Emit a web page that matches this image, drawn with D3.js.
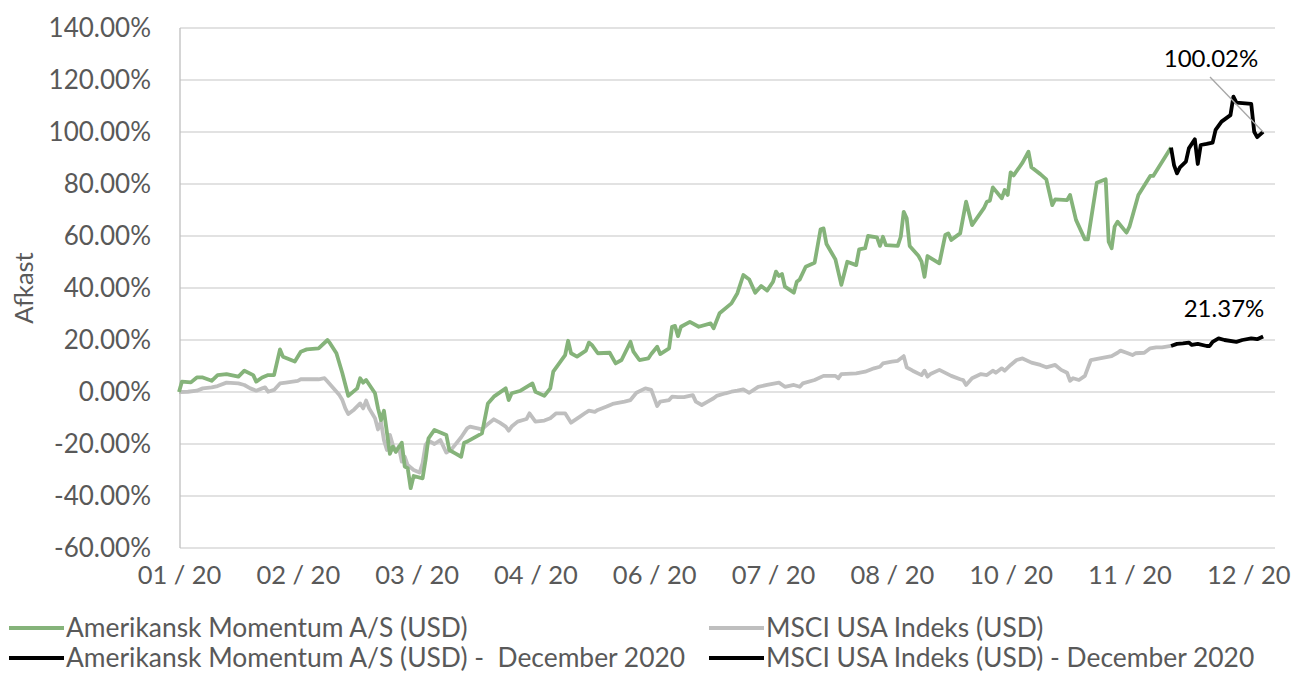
<!DOCTYPE html>
<html>
<head>
<meta charset="utf-8">
<script src="https://cdn.jsdelivr.net/npm/d3@7"></script>
<style>
  body { margin: 0; background: #fff; }
  svg { display: block; font-family: Lato, "Open Sans", sans-serif; }
</style>
</head>
<body>
<div id="chart"></div>
<script>

// Afkast i procent
const momentum = [
  ['2020-01-01', 0], ['2020-01-02', 4], ['2020-01-05', 3.7], ['2020-01-07', 5.6], ['2020-01-09', 5.6],
  ['2020-01-12', 4.3], ['2020-01-14', 6.5], ['2020-01-17', 6.9], ['2020-01-21', 5.9], ['2020-01-23', 8.2],
  ['2020-01-26', 6.5], ['2020-01-27', 4], ['2020-01-29', 5.6], ['2020-01-31', 6.5], ['2020-02-02', 6.5],
  ['2020-02-04', 16.4], ['2020-02-05', 13.6], ['2020-02-09', 11.7], ['2020-02-11', 15.5], ['2020-02-13', 16.4],
  ['2020-02-17', 16.8], ['2020-02-20', 20], ['2020-02-21', 18.5], ['2020-02-23', 14.9], ['2020-02-25', 7.2],
  ['2020-02-27', -1.5], ['2020-03-01', 1.4], ['2020-03-02', 5.3], ['2020-03-03', 3.6], ['2020-03-04', 4.6],
  ['2020-03-07', -0.5], ['2020-03-08', -6.3], ['2020-03-09', -10.8], ['2020-03-10', -7.2], ['2020-03-12', -23.8],
  ['2020-03-13', -21], ['2020-03-14', -23], ['2020-03-16', -19.5], ['2020-03-17', -28.7], ['2020-03-18', -29.3],
  ['2020-03-19', -37], ['2020-03-20', -32.3], ['2020-03-23', -33.2], ['2020-03-24', -26.2], ['2020-03-25', -17.8],
  ['2020-03-27', -14.6], ['2020-03-31', -16.5], ['2020-04-01', -22.3], ['2020-04-03', -23.6], ['2020-04-05', -24.9],
  ['2020-04-06', -19.5], ['2020-04-07', -19.1], ['2020-04-12', -15.9], ['2020-04-14', -4.4], ['2020-04-16', -1.8],
  ['2020-04-20', 1.4], ['2020-04-21', -3.1], ['2020-04-22', -0.5], ['2020-04-25', 0.5], ['2020-04-29', 3.3],
  ['2020-04-30', 0.1], ['2020-05-03', -1.5], ['2020-05-05', 1.4], ['2020-05-06', 7.8], ['2020-05-08', 11],
  ['2020-05-10', 14.2], ['2020-05-11', 19.7], ['2020-05-12', 14.9], ['2020-05-14', 13.6], ['2020-05-17', 15.9],
  ['2020-05-18', 19], ['2020-05-19', 18.1], ['2020-05-21', 14.9], ['2020-05-25', 15.1], ['2020-05-27', 11],
  ['2020-05-29', 12.3], ['2020-06-01', 19.3], ['2020-06-02', 15.5], ['2020-06-04', 12.3], ['2020-06-07', 12.9],
  ['2020-06-08', 14.6], ['2020-06-10', 17.4], ['2020-06-11', 14.6], ['2020-06-14', 16.8], ['2020-06-15', 25.1],
  ['2020-06-16', 25.4], ['2020-06-17', 21.5], ['2020-06-18', 25.1], ['2020-06-21', 27], ['2020-06-24', 25.1],
  ['2020-06-28', 26.4], ['2020-06-29', 24.5], ['2020-07-01', 30.3], ['2020-07-05', 34.1], ['2020-07-07', 38],
  ['2020-07-09', 45], ['2020-07-11', 43.3], ['2020-07-13', 38.2], ['2020-07-15', 40.8], ['2020-07-17', 39],
  ['2020-07-19', 42.4], ['2020-07-20', 46.3], ['2020-07-21', 44.6], ['2020-07-22', 45.4], ['2020-07-23', 40.5],
  ['2020-07-26', 38.2], ['2020-07-27', 42.4], ['2020-07-28', 43.3], ['2020-07-30', 48.2], ['2020-08-02', 49.7],
  ['2020-08-04', 62.6], ['2020-08-05', 62.9], ['2020-08-06', 56.9], ['2020-08-09', 51], ['2020-08-11', 41.2],
  ['2020-08-13', 50.1], ['2020-08-16', 48.8], ['2020-08-17', 54.9], ['2020-08-19', 55.3], ['2020-08-20', 60],
  ['2020-08-23', 59.5], ['2020-08-24', 56.2], ['2020-08-25', 59.7], ['2020-08-26', 56.5], ['2020-08-30', 56.2],
  ['2020-08-31', 59.7], ['2020-09-01', 69.3], ['2020-09-02', 66.8], ['2020-09-03', 56.2], ['2020-09-06', 52.3],
  ['2020-09-07', 50.1], ['2020-09-08', 44.3], ['2020-09-09', 52.3], ['2020-09-13', 49.5], ['2020-09-15', 60.4],
  ['2020-09-16', 61], ['2020-09-17', 58.5], ['2020-09-20', 61], ['2020-09-22', 73.2], ['2020-09-24', 64.2],
  ['2020-09-28', 70.7], ['2020-09-29', 73.2], ['2020-09-30', 73.6], ['2020-10-01', 78.7], ['2020-10-04', 74.5],
  ['2020-10-05', 77.7], ['2020-10-06', 75.8], ['2020-10-07', 84.5], ['2020-10-08', 83.3], ['2020-10-11', 88.2],
  ['2020-10-13', 92.4], ['2020-10-14', 86.4], ['2020-10-17', 83.8], ['2020-10-19', 81.8], ['2020-10-21', 71.9],
  ['2020-10-22', 74.1], ['2020-10-26', 73.8], ['2020-10-27', 75.8], ['2020-10-29', 66.2], ['2020-11-01', 58.7],
  ['2020-11-02', 58.7], ['2020-11-05', 80.5], ['2020-11-08', 81.8], ['2020-11-09', 57.8], ['2020-11-10', 55.3],
  ['2020-11-11', 63.6], ['2020-11-12', 65.5], ['2020-11-15', 61.3], ['2020-11-16', 63.6], ['2020-11-19', 75.8],
  ['2020-11-23', 83.1], ['2020-11-24', 83.1], ['2020-11-27', 88.6], ['2020-11-30', 94]
];

const momentumDec = [
  ['2020-11-30', 94], ['2020-12-01', 87.3], ['2020-12-02', 84.1], ['2020-12-03', 86.4], ['2020-12-05', 88.6],
  ['2020-12-06', 93.7], ['2020-12-08', 97.2], ['2020-12-09', 87.7], ['2020-12-10', 95], ['2020-12-12', 95.4],
  ['2020-12-14', 95.9], ['2020-12-15', 100.8], ['2020-12-17', 104], ['2020-12-20', 106.5], ['2020-12-21', 113.6],
  ['2020-12-22', 111.3], ['2020-12-27', 110.8], ['2020-12-28', 100.1], ['2020-12-29', 98], ['2020-12-31', 100.02]
];

const msci = [
  ['2020-01-01', 0], ['2020-01-04', 0.1], ['2020-01-07', 0.5], ['2020-01-09', 1.4], ['2020-01-12', 1.8],
  ['2020-01-14', 2.3], ['2020-01-17', 3.6], ['2020-01-21', 3.3], ['2020-01-23', 2.7], ['2020-01-25', 1.4],
  ['2020-01-27', 0.5], ['2020-01-29', 1.4], ['2020-01-30', 1.8], ['2020-01-31', 0.1], ['2020-02-02', 0.8],
  ['2020-02-04', 3.3], ['2020-02-06', 3.6], ['2020-02-10', 4.3], ['2020-02-11', 4.9], ['2020-02-15', 4.9],
  ['2020-02-17', 4.9], ['2020-02-19', 5.3], ['2020-02-20', 4], ['2020-02-22', 1.4], ['2020-02-24', -1.2],
  ['2020-02-25', -3.1], ['2020-02-26', -6.3], ['2020-02-27', -8.5], ['2020-02-29', -6.7], ['2020-03-02', -4.4],
  ['2020-03-03', -6.3], ['2020-03-04', -3.3], ['2020-03-05', -6.3], ['2020-03-07', -10.1], ['2020-03-08', -14.4],
  ['2020-03-09', -11.4], ['2020-03-10', -18.5], ['2020-03-11', -22.3], ['2020-03-12', -16.5], ['2020-03-13', -20.4],
  ['2020-03-14', -23], ['2020-03-15', -21], ['2020-03-16', -26.8], ['2020-03-17', -24.9], ['2020-03-18', -28.1],
  ['2020-03-20', -30], ['2020-03-22', -31], ['2020-03-23', -27.4], ['2020-03-24', -20.4], ['2020-03-25', -18.7],
  ['2020-03-27', -20], ['2020-03-29', -18.5], ['2020-03-31', -23.3], ['2020-04-02', -21.7], ['2020-04-05', -17.4],
  ['2020-04-07', -14], ['2020-04-08', -13.3], ['2020-04-12', -14.4], ['2020-04-13', -13.3], ['2020-04-14', -12.3],
  ['2020-04-16', -10.5], ['2020-04-18', -11.8], ['2020-04-20', -13.3], ['2020-04-21', -14.9], ['2020-04-22', -13.3],
  ['2020-04-24', -11.4], ['2020-04-27', -10.4], ['2020-04-28', -8.2], ['2020-04-30', -11.4], ['2020-05-03', -11],
  ['2020-05-05', -10.1], ['2020-05-07', -8.2], ['2020-05-10', -8.2], ['2020-05-12', -11.8], ['2020-05-15', -9.5],
  ['2020-05-17', -7.9], ['2020-05-18', -7.2], ['2020-05-20', -7.6], ['2020-05-21', -6.9], ['2020-05-24', -5.6],
  ['2020-05-26', -4.6], ['2020-05-30', -3.7], ['2020-06-01', -3.1], ['2020-06-03', -0.3], ['2020-06-06', 1.4],
  ['2020-06-08', 0.8], ['2020-06-10', -5.4], ['2020-06-11', -3.7], ['2020-06-14', -3.1], ['2020-06-15', -1.8],
  ['2020-06-17', -2], ['2020-06-19', -2], ['2020-06-22', -1.2], ['2020-06-23', -3.7], ['2020-06-25', -5],
  ['2020-06-27', -3.7], ['2020-06-29', -2.4], ['2020-06-30', -1.5], ['2020-07-03', -0.5], ['2020-07-05', 0.1],
  ['2020-07-07', 0.5], ['2020-07-09', 1], ['2020-07-11', -0.3], ['2020-07-14', 2], ['2020-07-17', 2.7],
  ['2020-07-21', 3.6], ['2020-07-23', 2], ['2020-07-26', 2.7], ['2020-07-28', 2], ['2020-07-29', 3.3],
  ['2020-08-02', 4.6], ['2020-08-05', 6.2], ['2020-08-09', 6.2], ['2020-08-10', 5.3], ['2020-08-11', 6.9],
  ['2020-08-16', 7.2], ['2020-08-19', 7.8], ['2020-08-22', 9.1], ['2020-08-24', 9.7], ['2020-08-25', 11],
  ['2020-08-28', 11.7], ['2020-08-30', 12], ['2020-09-01', 13.8], ['2020-09-02', 9.5], ['2020-09-04', 8.2],
  ['2020-09-07', 6.5], ['2020-09-08', 8.2], ['2020-09-09', 5.9], ['2020-09-10', 6.9], ['2020-09-13', 8.5],
  ['2020-09-17', 6.2], ['2020-09-20', 4.9], ['2020-09-21', 4.6], ['2020-09-22', 2.7], ['2020-09-24', 5.3],
  ['2020-09-27', 6.9], ['2020-09-29', 6.5], ['2020-10-01', 8.2], ['2020-10-02', 7.4], ['2020-10-04', 9.1],
  ['2020-10-05', 8.2], ['2020-10-07', 10.4], ['2020-10-09', 12.3], ['2020-10-11', 12.9], ['2020-10-14', 11.3],
  ['2020-10-17', 10.4], ['2020-10-19', 9.5], ['2020-10-22', 10.4], ['2020-10-24', 8.5], ['2020-10-26', 7.4],
  ['2020-10-27', 4.3], ['2020-10-28', 5.3], ['2020-10-30', 4.6], ['2020-11-01', 6.2], ['2020-11-03', 12.3],
  ['2020-11-06', 12.9], ['2020-11-10', 13.8], ['2020-11-12', 15.1], ['2020-11-13', 15.9], ['2020-11-15', 15.1],
  ['2020-11-17', 14.2], ['2020-11-18', 14.9], ['2020-11-21', 15.1], ['2020-11-23', 16.8], ['2020-11-25', 17.2],
  ['2020-11-27', 17.2], ['2020-11-30', 17.7]
];

const msciDec = [
  ['2020-11-30', 17.7], ['2020-12-02', 18.5], ['2020-12-04', 18.7], ['2020-12-06', 19], ['2020-12-07', 18.1],
  ['2020-12-09', 18.5], ['2020-12-12', 17.7], ['2020-12-13', 17.7], ['2020-12-14', 19.3], ['2020-12-16', 20.6],
  ['2020-12-18', 20], ['2020-12-22', 19.3], ['2020-12-24', 20], ['2020-12-27', 20.6], ['2020-12-29', 20.3],
  ['2020-12-31', 21.37]
];

const yTicks = [-60, -40, -20, 0, 20, 40, 60, 80, 100, 120, 140];
const xTickDates = ['2020-01-01', '2020-02-10', '2020-03-21', '2020-04-30', '2020-06-09',
  '2020-07-19', '2020-08-28', '2020-10-07', '2020-11-16', '2020-12-26'];

const seriesNames = [
  'Amerikansk Momentum A/S (USD)',
  'MSCI USA Indeks (USD)',
  'Amerikansk Momentum A/S (USD) -  December 2020',
  'MSCI USA Indeks (USD) - December 2020'
];
const seriesColors = ['#85b37a', '#bfbfbf', '#000000', '#000000'];

const width = 1291;
const height = 673;
const plot = { left: 179, right: 1275, top: 28, bottom: 548 };

const parseDate = d3.timeParse('%Y-%m-%d');
const toPoints = (arr) => arr.map(([d, v]) => ({ date: parseDate(d), value: v }));
const pct = (v) => v.toFixed(2) + '%';

const svg = d3.select('#chart')
  .append('svg')
  .attr('width', width)
  .attr('height', height);

const xScale = d3.scaleTime()
  .domain([parseDate('2020-01-01'), parseDate('2021-01-04')])
  .range([plot.left, plot.right]);

const yScale = d3.scaleLinear()
  .domain([-60, 140])
  .range([plot.bottom, plot.top]);

// gridlines
svg.append('g')
  .selectAll('line')
  .data(yTicks)
  .join('line')
  .attr('x1', plot.left + 1)
  .attr('x2', plot.right)
  .attr('y1', (d) => yScale(d))
  .attr('y2', (d) => yScale(d))
  .attr('stroke', '#d9d9d9')
  .attr('stroke-width', 1.3);

// venstre akse-linje
svg.append('line')
  .attr('x1', plot.left + 1).attr('x2', plot.left + 1)
  .attr('y1', plot.top).attr('y2', plot.bottom)
  .attr('stroke', '#bfbfbf')
  .attr('stroke-width', 1.3);

const yAxis = d3.axisLeft(yScale)
  .tickValues(yTicks)
  .tickSize(0)
  .tickPadding(0)
  .tickFormat(pct);

svg.append('g')
  .attr('transform', 'translate(151,0)')
  .call(yAxis)
  .call((g) => g.select('.domain').remove())
  .selectAll('text')
  .attr('fill', '#595959')
  .style('font-size', '26px')
  .style('font-family', 'Lato, sans-serif');

const xAxis = d3.axisBottom(xScale)
  .tickValues(xTickDates.map(parseDate))
  .tickSize(0)
  .tickPadding(0)
  .tickFormat(d3.timeFormat('%m / %y'));

svg.append('g')
  .attr('transform', `translate(0, 566)`)
  .call(xAxis)
  .call((g) => g.select('.domain').remove())
  .selectAll('text')
  .attr('fill', '#595959')
  .style('font-size', '25.5px')
  .style('font-family', 'Lato, sans-serif');

svg.append('text')
  .attr('transform', 'translate(33, 288) rotate(-90)')
  .attr('text-anchor', 'middle')
  .attr('fill', '#595959')
  .style('font-size', '25.5px')
  .text('Afkast');

const line = d3.line()
  .x((d) => xScale(d.date))
  .y((d) => yScale(d.value));

const allSeries = [momentum, msci, momentumDec, msciDec];
// graa linje tegnes foerst, saa den groenne ligger ovenpaa
[1, 0, 3, 2].forEach((i) => {
  svg.append('path')
    .datum(toPoints(allSeries[i]))
    .attr('fill', 'none')
    .attr('stroke', seriesColors[i])
    .attr('stroke-width', 3.8)
    .attr('stroke-linejoin', 'round')
    .attr('d', line);
});

// etiketter for slutvaerdier
const lastMom = toPoints(momentumDec).at(-1);
const lastMsci = toPoints(msciDec).at(-1);

svg.append('line')
  .attr('x1', 1210).attr('y1', 77)
  .attr('x2', xScale(lastMom.date)).attr('y2', yScale(lastMom.value))
  .attr('stroke', '#a6a6a6')
  .attr('stroke-width', 1.3);

svg.append('text')
  .attr('x', 1211).attr('y', 67)
  .attr('text-anchor', 'middle')
  .style('font-size', '24px')
  .attr('fill', '#000')
  .text(pct(lastMom.value));

svg.append('text')
  .attr('x', 1224).attr('y', 317)
  .attr('text-anchor', 'middle')
  .style('font-size', '24px')
  .attr('fill', '#000')
  .text(pct(lastMsci.value));

// legend
const legendPos = [[9, 628], [709, 628], [9, 658], [709, 658]];
const legend = svg.append('g')
  .selectAll('g')
  .data(seriesNames)
  .join('g')
  .attr('transform', (d, i) => `translate(${legendPos[i][0]}, ${legendPos[i][1]})`);

legend.append('line')
  .attr('x1', 0).attr('x2', 55)
  .attr('stroke', (d, i) => seriesColors[i])
  .attr('stroke-width', 3.8);

legend.append('text')
  .attr('x', 57)
  .attr('dy', '0.35em')
  .attr('fill', '#595959')
  .style('font-size', '26.4px')
  .style('white-space', 'pre')
  .text((d) => d);

</script>
</body>
</html>
